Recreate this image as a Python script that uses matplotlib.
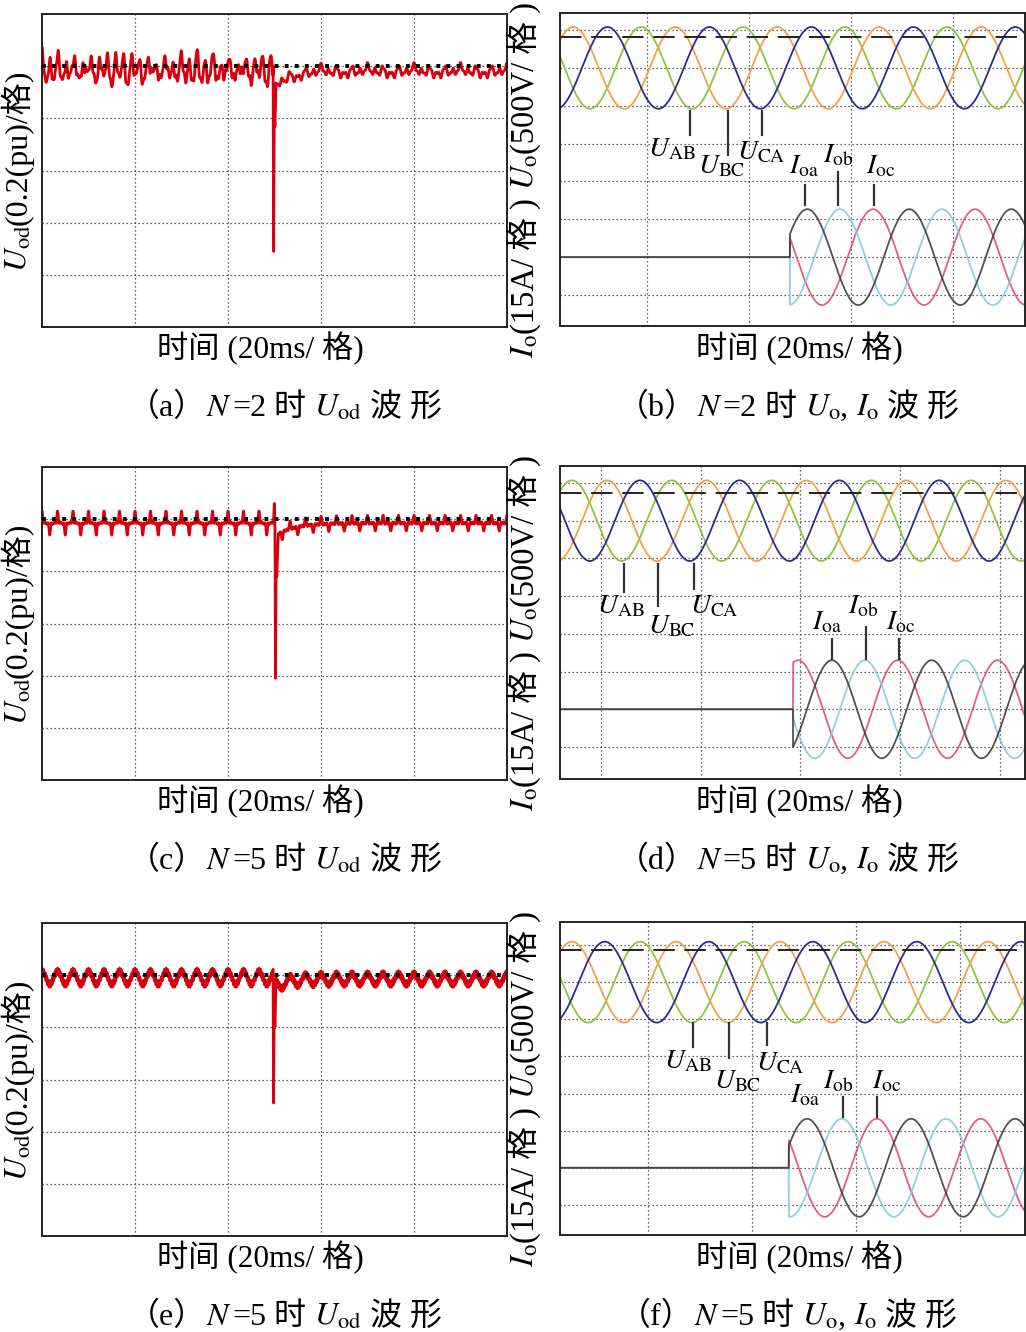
import matplotlib
matplotlib.use('Agg')
import matplotlib.pyplot as plt
import numpy as np

W, H = 1026, 1332
plt.rcParams['mathtext.fontset'] = 'stix'
MIX = ['Liberation Serif', 'Noto Sans CJK SC']

# ---- U_od panels (a), (c), (e): time in ms, voltage in pu ----
uod_step = [49.7, 50.1, 49.7]
uod_mean_pre = [0.985, 0.985, 0.99]
uod_mean_post = [0.98, 0.985, 0.985]
uod_rip_f_pre = [[570, 300, 1140, 630, 1700], [300, 900, 1500, 2100], [300, 3000]]
uod_rip_a_pre = [[0.035, 0.018, 0.012, 0.015, 0.008], [0.018, 0.012, 0.01, 0.006],
                 [0.025, 0.012]]
uod_rip_f_post = [[600, 300, 100, 1300], [300, 900, 1500], [300, 3000]]
uod_rip_a_post = [[0.013, 0.009, 0.006, 0.006], [0.012, 0.01, 0.008], [0.02, 0.012]]
uod_sag = [0.07, 0.05, 0.03]
uod_sag_tau = [3, 4, 3]
uod_dip_dt = [[0, 0.12, 0.25, 0.4, 0.6],
              [-0.3, -0.15, 0, 0.12, 0.25, 0.4, 0.7],
              [0, 0.1, 0.25, 0.4, 0.6]]
uod_dip_v = [[1.0, 0.29, 0.80, 0.77, 0.90],
             [0.99, 1.06, 0.98, 0.39, 0.80, 0.78, 0.93],
             [0.99, 0.51, 0.87, 0.80, 0.96]]

# ---- U_o / I_o panels (b), (d), (f): time in ms ----
vo_amp = [540, 535, 545]                      # V peak
vo_peak = {'AB': [-1.2, -5.8, -1.5],          # time of a peak, ms
           'BC': [-14.5, 1.2, -14.6],
           'CA': [-7.8, 7.8, -8.3]}
vo_dash = [410, 370, 430]                     # V
io_amp = [19.0, 19.5, 19.8]                   # A peak
io_peak = {'oa': [31.4, 46.3, 30.6],
           'ob': [37.8, 52.9, 37.3],
           'oc': [44.3, 59.5, 44.0]}
io_step = [28.0, 38.5, 27.1]
v_div, i_div = 500, 15

captions_l = ['（a）', '（c）', '（e）']
captions_r = ['（b）', '（d）', '（f）']
n_vals = ['=2', '=5', '=5']

# ---- layout (pixels) ----
rows_top = [0, 453, 909]
left_box = (42, 14, 507, 327)
right_box = (560, 13, 1025, 326)
right_xlim = [(-17.1, 74.1), (-8.2, 85.0), (-16.9, 72.5)]
right_ylim = [(-0.82, 7.45), (-0.85, 7.45), (-0.81, 7.62)]
right_xt = [[0, 20, 40, 60], [0, 20, 40, 60, 80], [0, 20, 40, 60]]
lab_pos = [
    {'AB': (0.2, 3.65), 'BC': (10.0, 3.22), 'CA': (17.6, 3.59),
     'oa': (27.8, 3.22), 'ob': (34.5, 3.49), 'oc': (42.9, 3.22)},
    {'AB': (-0.8, 3.53), 'BC': (9.4, 3.0), 'CA': (17.8, 3.53),
     'oa': (42.3, 3.13), 'ob': (49.5, 3.53), 'oc': (57.1, 3.13)},
    {'AB': (3.1, 3.69), 'BC': (12.7, 3.15), 'CA': (20.8, 3.63),
     'oa': (27.3, 2.77), 'ob': (33.7, 3.15), 'oc': (43.1, 3.15)},
]
marks = [
    [(8.4, 4.85, 4.23), (15.9, 4.85, 3.7), (22.5, 4.85, 4.23),
     (31.0, 2.9, 2.38), (37.5, 3.25, 2.38), (44.5, 2.9, 2.38)],
    [(4.6, 4.85, 4.11), (11.4, 4.85, 3.74), (18.6, 4.85, 4.19),
     (46.3, 2.86, 2.33), (53.1, 3.18, 2.33), (59.7, 2.86, 2.33)],
    [(8.7, 4.9, 4.25), (15.6, 4.9, 3.96), (22.9, 4.9, 4.3),
     (37.5, 2.91, 2.37), (44.0, 2.91, 2.37)],
]

RED = '#d8000e'
GREEN, ORANGE, BLUE = '#8cc63f', '#f4a04e', '#2c2c8e'
DARK, CYAN, PINK = '#333333', '#7cc8e2', '#e0426c'

fig = plt.figure(figsize=(W / 100, H / 100), dpi=100)


def px_axes(l, t, r, b):
    return fig.add_axes([l / W, 1 - b / H, (r - l) / W, (b - t) / H])


def style(ax):
    for sp in ax.spines.values():
        sp.set_linewidth(1.4)
        sp.set_color('#222222')
    ax.tick_params(length=0, labelbottom=False, labelleft=False)
    ax.grid(True, color='#333333', lw=0.9, ls=(0, (1, 2.2)))


def rich(x, y, parts, size, rot=0):
    # pieces laid one after the other, centred on x (or y when rotated)
    r = fig.canvas.get_renderer()
    ts = [fig.text(0, 0, s, fontsize=size, family=MIX, rotation=rot,
                   rotation_mode='anchor', ha='left', va='baseline')
          for s in parts]
    lens = []
    for t in ts:
        e = t.get_window_extent(r)
        lens.append(e.height if rot else e.width)
    pos = -sum(lens) / 2
    for t, n in zip(ts, lens):
        if rot:
            t.set_position((x / W, 1 - (y - pos) / H))
        else:
            t.set_position(((x + pos) / W, 1 - y / H))
        pos += n


def ripple(tt, fr, am):
    return sum(a * np.cos(2 * np.pi * f * tt / 1000) for f, a in zip(fr, am))


t = np.linspace(0, 100, 6001)
tr = np.linspace(-20, 90, 5001)

for k in range(3):
    dy = rows_top[k]
    # ---------- left: U_od ----------
    l, tp, r, b = left_box
    ax = px_axes(l, tp + dy, r, b + dy)
    style(ax)
    ts = uod_step[k]
    dt = np.array(uod_dip_dt[k])
    tb = t[t < ts + dt[0]]
    yb = uod_mean_pre[k] + ripple(tb, uod_rip_f_pre[k], uod_rip_a_pre[k])
    ta = t[t > ts + dt[-1]]
    ya = (uod_mean_post[k] - uod_sag[k] * np.exp(-(ta - ts) / uod_sag_tau[k])
          + ripple(ta, uod_rip_f_post[k], uod_rip_a_post[k]))
    ax.plot(np.concatenate([tb, ts + dt, ta]),
            np.concatenate([yb, uod_dip_v[k], ya]), color=RED, lw=2.0)
    ax.axhline(1.0, color='k', lw=2.8, ls=(0, (1, 1.6)), zorder=3)
    ax.set_xlim(0, 100)
    ax.set_ylim(0, 1.2)
    ax.set_xticks([20, 40, 60, 80])
    ax.set_yticks([0.2, 0.4, 0.6, 0.8, 1.0])

    # ---------- right: U_o, I_o ----------
    l, tp, r, b = right_box
    ax = px_axes(l, tp + dy, r, b + dy)
    style(ax)
    for name, col in [('AB', GREEN), ('BC', ORANGE), ('CA', BLUE)]:
        v = vo_amp[k] * np.cos(2 * np.pi * (tr - vo_peak[name][k]) / 20)
        ax.plot(tr, 6 + v / v_div, color=col, lw=1.3)
    ax.axhline(6 + vo_dash[k] / v_div, color='#222222', lw=1.4, ls=(0, (11, 5)))
    for name, col in [('oc', PINK), ('ob', CYAN), ('oa', DARK)]:
        i = np.where(tr < io_step[k], 0,
                     io_amp[k] * np.cos(2 * np.pi * (tr - io_peak[name][k]) / 20))
        ax.plot(tr, 1 + i / i_div, color=col, lw=1.3, alpha=0.85)
    for x, y0, y1 in marks[k]:
        ax.plot([x, x], [y0, y1], color='#333333', lw=1.6)
    for name, (x, y) in lab_pos[k].items():
        sym = 'U' if name.isupper() else 'I'
        ax.text(x, y, r'$%s_{\mathrm{%s}}$' % (sym, name), fontsize=20,
                ha='left', va='baseline')
    ax.set_xlim(*right_xlim[k])
    ax.set_ylim(*right_ylim[k])
    ax.set_xticks(right_xt[k])
    ax.set_yticks(range(8))

    # ---------- texts ----------
    for xc in (260, 799):
        fig.text(xc / W, 1 - (348 + dy) / H, '时间 (20ms/ 格)', family=MIX,
                 fontsize=22.5, ha='center', va='center')
    rich(27, 170.5 + dy, [r'$U_{\mathrm{od}}$', '(0.2(pu)/格)'], 23, rot=90)
    rich(534, 180 + dy, [r'$I_{\mathrm{o}}$', '(15A/ 格 )',
                         r' $U_{\mathrm{o}}$', '(500V/ 格 )'], 23.5, rot=90)
    rich(285, 416 + dy, [captions_l[k], r'$N$', n_vals[k], ' 时',
                         r' $U_{\mathrm{od}}$', ' 波 形'], 23)
    rich(788, 416 + dy, [captions_r[k], r'$N$', n_vals[k], ' 时',
                         r' $U_{\mathrm{o}}$', ',', r' $I_{\mathrm{o}}$', ' 波 形'], 23)

plt.savefig('out.png', dpi=100)
